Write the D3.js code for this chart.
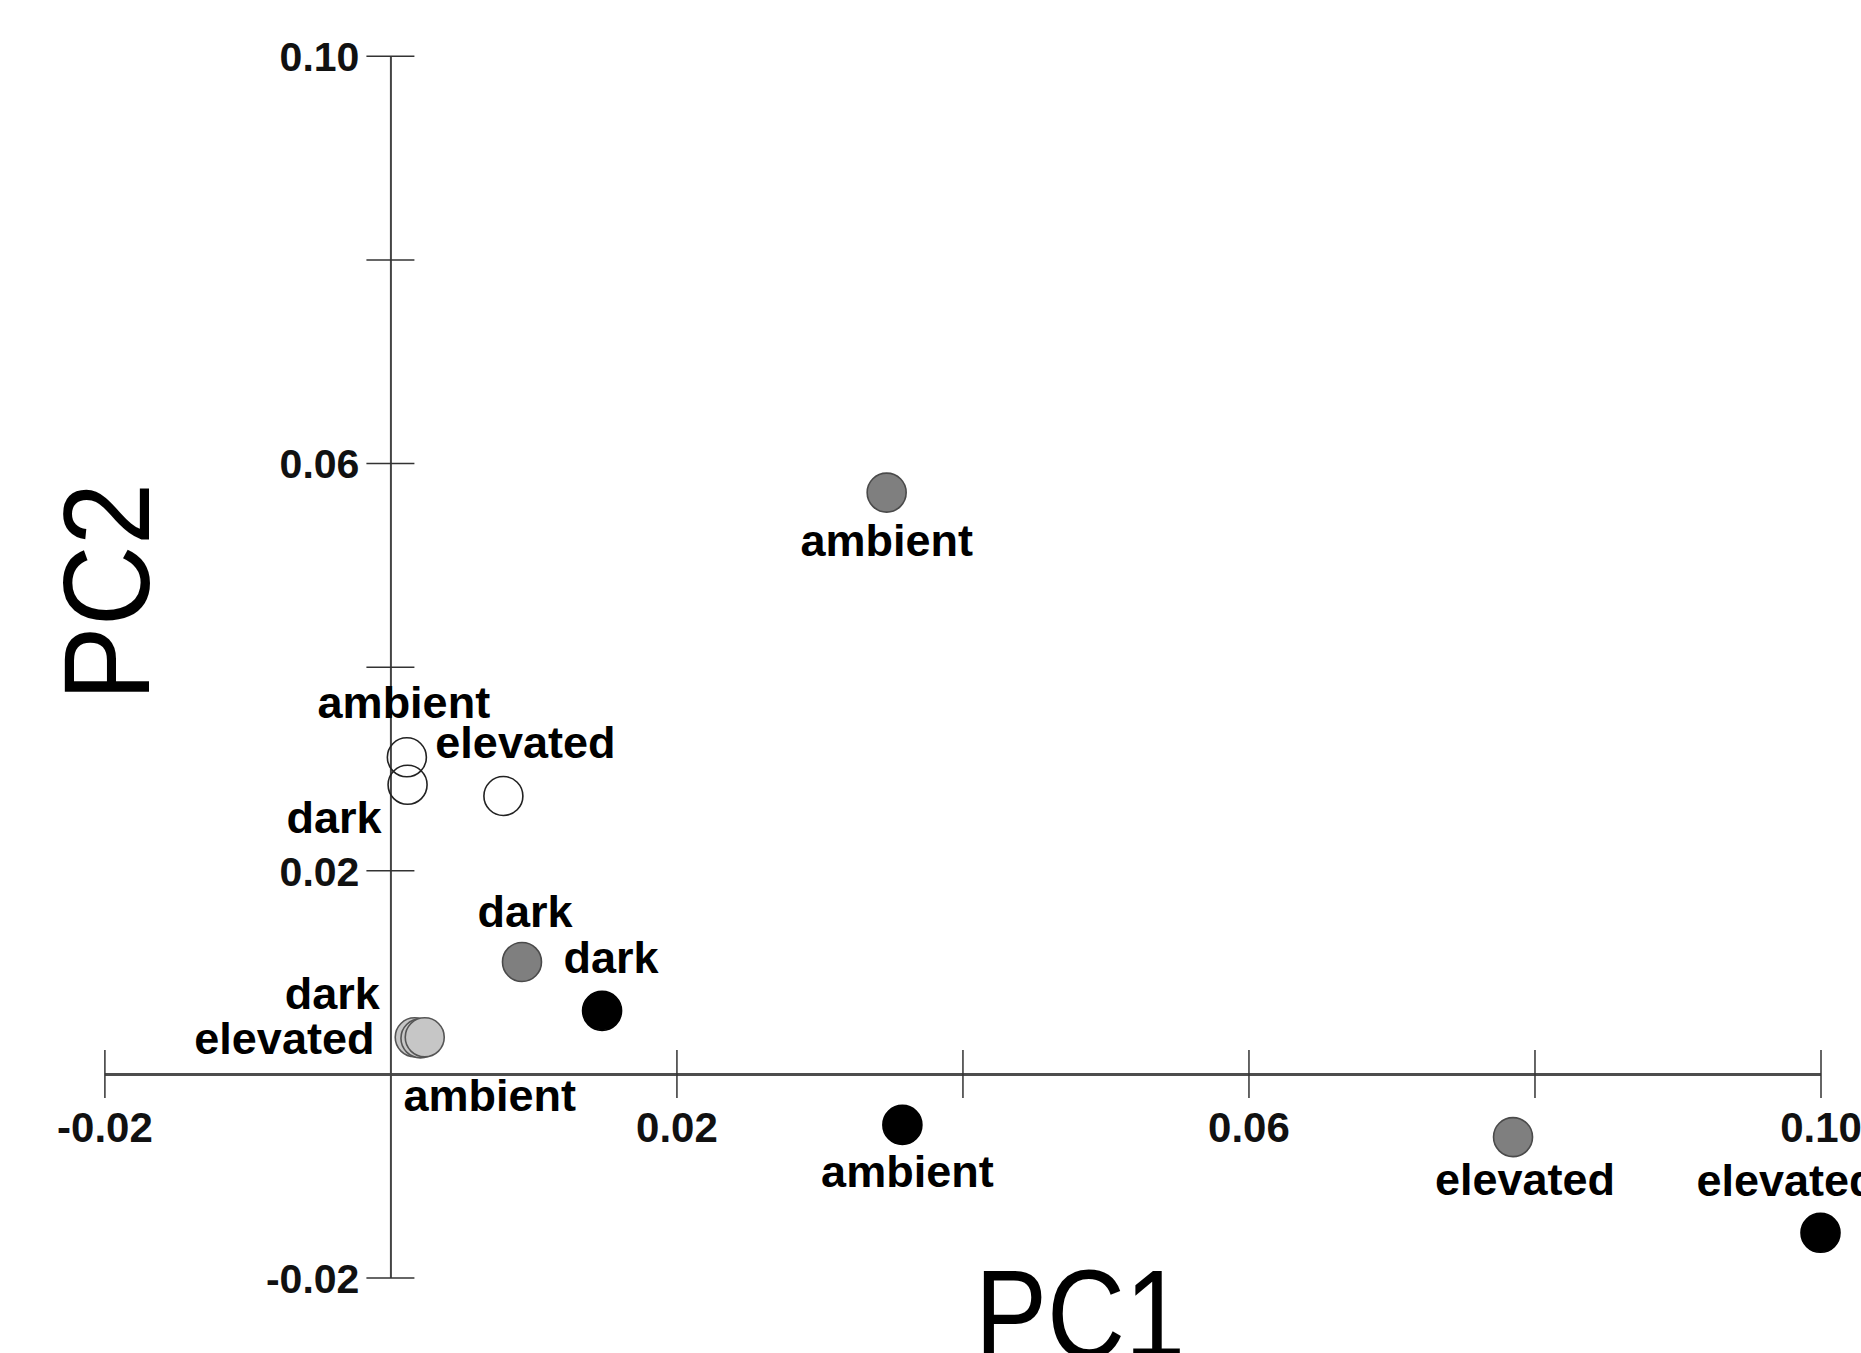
<!DOCTYPE html>
<html>
<head>
<meta charset="utf-8">
<script src="https://cdn.jsdelivr.net/npm/d3@7"></script>
<style>
    body { margin: 0; background: #ffffff; }
    svg { display: block; }
</style>
</head>
<body>
<div class="pca-plot"></div>
<script>
//Scores, one entry per sample
var shade = ["open", "open", "open", "light", "light", "light", "mid", "mid", "mid", "black", "black", "black"];
var treatment = ["ambient", "dark", "elevated", "dark", "elevated", "ambient", "ambient", "dark", "elevated", "dark", "ambient", "elevated"];
var pc1 = [0.00115, 0.0012, 0.0079, 0.0017, 0.0021, 0.0024, 0.0347, 0.0092, 0.0785, 0.0148, 0.0358, 0.1000];
var pc2 = [0.0311, 0.0284, 0.0273, 0.0036, 0.0035, 0.0036, 0.0571, 0.0110, -0.0062, 0.0062, -0.0050, -0.0156];

//Axis ticks (only some of them carry a label)
var xTicks = [-0.02, 0.02, 0.04, 0.06, 0.08, 0.10];
var xTickLabels = [-0.02, 0.02, 0.06, 0.10];
var yTicks = [-0.02, 0.02, 0.04, 0.06, 0.08, 0.10];
var yTickLabels = [-0.02, 0.02, 0.06, 0.10];

//Where each label sits next to its point: [dx, dy, anchor]
var labelOffsets = [
    [-3, -39, "middle"], [-26, 48, "end"], [22, -38, "middle"],
    [-35, -28, "end"], [-46, 16, "end"], [65, 74, "middle"],
    [0, 63, "middle"], [3, -35, "middle"], [12, 58, "middle"],
    [9, -38, "middle"], [5, 62, "middle"], [-34, -37, "middle"]
];

var fills = { open: "none", light: "#c6c6c6", mid: "#7f7f7f", black: "#000000" };
var strokes = { open: "#222222", light: "#555555", mid: "#4a4a4a", black: "#000000" };

var width = 1861;
var height = 1353;
var fontFamily = "'Liberation Sans', Arial, sans-serif";

var x = d3.scaleLinear().domain([-0.02, 0.10]).range([104.4, 1820.5]);
var y = d3.scaleLinear().domain([-0.02, 0.10]).range([1277.6, 55.8]);

var svg = d3.select(".pca-plot")
    .append("svg")
    .attr("width", width)
    .attr("height", height);

svg.append("rect")
    .attr("width", width)
    .attr("height", height)
    .attr("fill", "#ffffff");

//plain hyphen for negatives, like the original
var fmt = d => d3.format(".2f")(d).replace("\u2212", "-");

//X axis through y = 0, ticks crossing the line
var xAxis = svg.append("g")
    .attr("transform", "translate(0," + y(0) + ")")
    .call(d3.axisBottom(x)
        .tickValues(xTicks)
        .tickSizeOuter(0)
        .tickFormat(d => xTickLabels.includes(d) ? fmt(d) : ""));
xAxis.select(".domain").attr("stroke", "#4d4d4d").attr("stroke-width", 3);
xAxis.selectAll(".tick line").attr("y1", -24).attr("y2", 24)
    .attr("stroke", "#333333").attr("stroke-width", 1.5);
xAxis.selectAll(".tick text")
    .attr("y", 68).attr("dy", 0)
    .attr("fill", "#111111")
    .style("font-family", fontFamily)
    .style("font-weight", "bold")
    .style("font-size", "42px");

//Y axis through x = 0
var yAxis = svg.append("g")
    .attr("transform", "translate(" + x(0) + ",0)")
    .call(d3.axisLeft(y)
        .tickValues(yTicks)
        .tickSizeOuter(0)
        .tickFormat(d => yTickLabels.includes(d) ? fmt(d) : ""));
yAxis.select(".domain").attr("stroke", "#444444").attr("stroke-width", 2);
yAxis.selectAll(".tick line").attr("x1", -24).attr("x2", 24)
    .attr("stroke", "#333333").attr("stroke-width", 1.5);
yAxis.selectAll(".tick text")
    .attr("x", -31).attr("dy", "0.36em")
    .attr("fill", "#111111")
    .style("font-family", fontFamily)
    .style("font-weight", "bold")
    .style("font-size", "41px");

//Points
var idx = d3.range(pc1.length);
svg.append("g").selectAll("circle")
    .data(idx)
    .join("circle")
    .attr("cx", i => x(pc1[i]))
    .attr("cy", i => y(pc2[i]))
    .attr("r", 19.5)
    .attr("fill", i => fills[shade[i]])
    .attr("stroke", i => strokes[shade[i]])
    .attr("stroke-width", 1.6);

//Point labels
svg.append("g").selectAll("text")
    .data(idx)
    .join("text")
    .attr("x", i => x(pc1[i]) + labelOffsets[i][0])
    .attr("y", i => y(pc2[i]) + labelOffsets[i][1])
    .attr("text-anchor", i => labelOffsets[i][2])
    .attr("fill", "#000000")
    .style("font-family", fontFamily)
    .style("font-weight", "bold")
    .style("font-size", "45px")
    .text(i => treatment[i]);

//Axis titles
svg.append("text")
    .attr("transform", "translate(1080,1358) scale(1,1.16)")
    .attr("text-anchor", "middle")
    .style("font-family", fontFamily)
    .style("font-size", "108px")
    .text("PC1");

svg.append("text")
    .attr("transform", "translate(149,592) rotate(-90) scale(1,1.1)")
    .attr("text-anchor", "middle")
    .style("font-family", fontFamily)
    .style("font-size", "112px")
    .text("PC2");
</script>
</body>
</html>
